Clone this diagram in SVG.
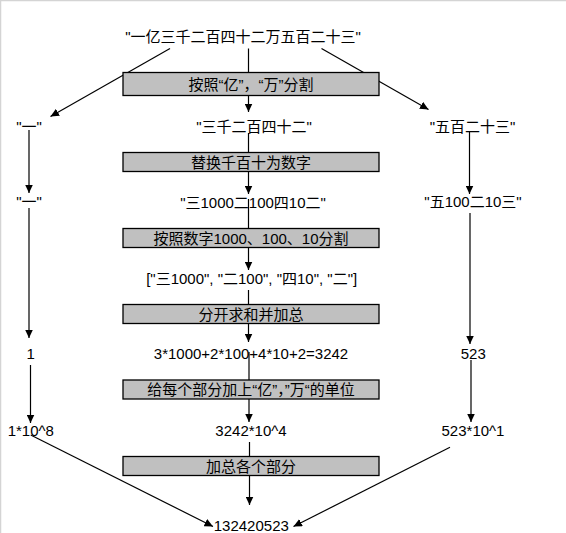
<svg xmlns="http://www.w3.org/2000/svg" width="566" height="533" viewBox="0 0 566 533">
<defs>
<style>
text{font-family:"Liberation Sans","Noto Sans CJK SC",sans-serif;font-size:15px;fill:#000;text-anchor:middle;dominant-baseline:central}
.box{fill:#c0c0c0;stroke:#000;stroke-width:1.3}
.ln{stroke:#000;stroke-width:1.2;fill:none;marker-end:url(#ah)}
</style>
<marker id="ah" markerUnits="userSpaceOnUse" markerWidth="9" markerHeight="8" refX="8.5" refY="4" orient="auto">
<path d="M0,0 L8.5,4 L0,8 z" fill="#000"/>
</marker>
</defs>
<rect width="566" height="533" fill="#fff"/>
<path d="M0.5,533 V0.5 H566" stroke="#d4d4d4" stroke-width="1.5" fill="none"/>

<g id="connectors">
<line class="ln" x1="170" y1="48.5" x2="50.5" y2="116.5"/>
<line class="ln" x1="248.5" y1="48.5" x2="248.5" y2="112"/>
<line class="ln" x1="321.5" y1="48.5" x2="428.5" y2="109.5"/>
<line class="ln" x1="29" y1="130" x2="29" y2="193"/>
<line class="ln" x1="29" y1="208" x2="29" y2="338"/>
<line class="ln" x1="30.5" y1="365" x2="30.5" y2="423"/>
<line class="ln" x1="30.7" y1="435" x2="213" y2="526.5"/>
<line class="ln" x1="248.5" y1="133" x2="248.5" y2="194"/>
<line class="ln" x1="248.5" y1="199" x2="248.5" y2="270"/>
<line class="ln" x1="248.5" y1="290" x2="248.5" y2="342"/>
<line class="ln" x1="249" y1="352" x2="249" y2="422"/>
<line class="ln" x1="249.5" y1="442" x2="249.5" y2="505"/>
<line class="ln" x1="469.5" y1="132" x2="469.5" y2="194"/>
<line class="ln" x1="470" y1="213" x2="470" y2="344"/>
<line class="ln" x1="471" y1="360" x2="471" y2="422"/>
<line class="ln" x1="450" y1="447.3" x2="293.5" y2="526.5"/>
</g>

<g id="step1"><rect class="box" x="123" y="72.5" width="256" height="23"/><text x="251" y="84">按照“亿”，“万”分割</text></g>
<g id="step2"><rect class="box" x="123" y="152.5" width="256" height="19"/><text x="251" y="162">替换千百十为数字</text></g>
<g id="step3"><rect class="box" x="123" y="228.5" width="256" height="19"/><text x="251" y="238">按照数字1000、100、10分割</text></g>
<g id="step4"><rect class="box" x="123" y="304.5" width="256" height="19"/><text x="251" y="314">分开求和并加总</text></g>
<g id="step5"><rect class="box" x="123" y="380" width="256" height="19"/><text x="251" y="389.5">给每个部分加上“亿”，”万“的单位</text></g>
<g id="step6"><rect class="box" x="123" y="456.5" width="256" height="19"/><text x="251" y="466">加总各个部分</text></g>

<g id="n-top"><text x="243" y="36">"一亿三千二百四十二万五百二十三"</text></g>
<g id="n-yi1"><text x="29" y="126">"一"</text></g>
<g id="n-mid1"><text x="254" y="126">"三千二百四十二"</text></g>
<g id="n-right1"><text x="472.5" y="126">"五百二十三"</text></g>
<g id="n-yi2"><text x="29" y="201">"一"</text></g>
<g id="n-mid2"><text x="253" y="202">"三1000二100四10二"</text></g>
<g id="n-right2"><text x="473" y="201">"五100二10三"</text></g>
<g id="n-list"><text x="251.7" y="278.5">["三1000", "二100", "四10", "二"]</text></g>
<g id="n-one"><text x="30.7" y="353.3">1</text></g>
<g id="n-sum"><text x="251" y="353.3">3*1000+2*100+4*10+2=3242</text></g>
<g id="n-523"><text x="473.3" y="353.3">523</text></g>
<g id="n-e8"><text x="30.8" y="430">1*10^8</text></g>
<g id="n-e4"><text x="251" y="430">3242*10^4</text></g>
<g id="n-e1"><text x="473" y="430">523*10^1</text></g>
<g id="n-result"><text x="251.3" y="525">132420523</text></g>
</svg>
